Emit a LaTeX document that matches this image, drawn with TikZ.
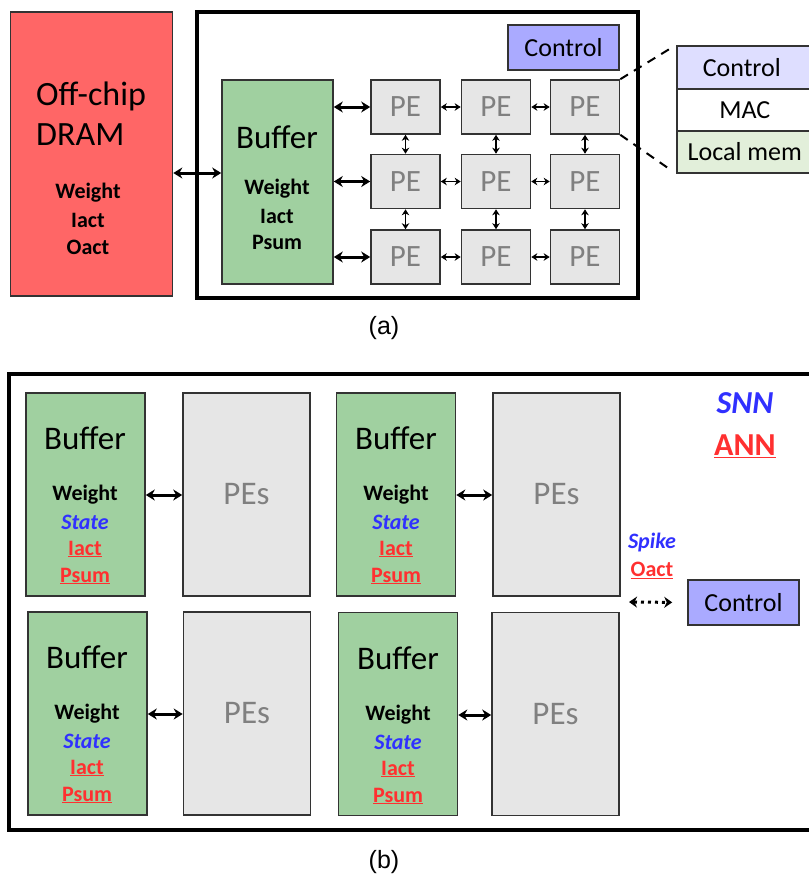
\documentclass[tikz,border=0pt]{standalone}
\usepackage{fontspec}
\setmainfont{Carlito}
\newfontfamily\capfont{Liberation Sans}
\usetikzlibrary{arrows.meta}
\definecolor{dramred}{HTML}{FF6666}
\definecolor{bufgreen}{HTML}{A0D0A0}
\definecolor{ctrlblue}{HTML}{AAAAFF}
\definecolor{pegray}{HTML}{E6E6E6}
\definecolor{dctrl}{HTML}{DEDEFF}
\definecolor{dlocal}{HTML}{E2EFDA}
\definecolor{snnblue}{HTML}{3030FF}
\definecolor{annred}{HTML}{FF3030}
\newcommand{\fs}[1]{\fontsize{#1}{#1}\selectfont}
\begin{document}
\begin{tikzpicture}[x=1pt,y=-1pt,
  box/.style={draw=black!80, line width=1.6pt, inner sep=0pt},
  pebox/.style={box, fill=pegray, minimum width=69pt, minimum height=54pt, text=black!50, font=\fs{31}},
  bigpe/.style={box, fill=pegray, minimum width=127pt, minimum height=203pt, text=black!50, font=\fs{33}},
  bufbox/.style={box, fill=bufgreen, minimum width=119pt, minimum height=203pt},
  ctrlbox/.style={box, fill=ctrlblue, minimum width=111pt, minimum height=45pt, font=\fs{26}},
  framebox/.style={draw=black, line width=3.5pt},
  bigarr/.style={line width=3pt, {Stealth[length=9pt,width=11pt]}-{Stealth[length=9pt,width=11pt]}},
  smallarr/.style={line width=1.5pt, {Stealth[length=6pt,width=7.5pt]}-{Stealth[length=6pt,width=7.5pt]}},
  dotarr/.style={line width=3pt, dash pattern=on 3pt off 4pt, {Stealth[length=8pt,width=11pt]}-{Stealth[length=8pt,width=11pt]}},
  dashln/.style={line width=2pt, dash pattern=on 9pt off 7pt},
  lbl/.style={font=\fs{22}\bfseries, inner sep=0pt},
  bigtext/.style={font=\fs{33}, inner sep=0pt},
  snn/.style={lbl, text=snnblue, font=\fs{22}\bfseries\itshape},
  ann/.style={lbl, text=annred},
  captext/.style={font=\capfont\fs{25}, inner sep=0pt}
]
\useasboundingbox (0,0) rectangle (809,879);

% ---------------- (a) ----------------
\node[box, fill=dramred, minimum width=162pt, minimum height=284pt] (dram) at (91.5,154) {};
\node[bigtext, anchor=west, font=\fs{34}] (offchip) at (36,96) {Off-chip};
\node[bigtext, anchor=west, font=\fs{34}] (dramt) at (36,135) {DRAM};
\node[lbl] (dw) at (88,193) {Weight};
\node[lbl] (di) at (88,220) {Iact};
\node[lbl] (do) at (88,247) {Oact};

\node[framebox, minimum width=441pt, minimum height=286pt, inner sep=0pt] (chip) at (417.5,155) {};

\node[box, fill=bufgreen, minimum width=111pt, minimum height=204pt] (buf) at (277.5,182) {};
\node[bigtext] (buft) at (277,137) {Buffer};
\node[lbl] (bw) at (277,189) {Weight};
\node[lbl] (bi) at (277,216) {Iact};
\node[lbl] (bp) at (277,242) {Psum};

\node[ctrlbox] (ctrl) at (563.5,47.5) {Control};

\node[pebox] (pe11) at (405.5,107) {PE};
\node[pebox] (pe12) at (496,107) {PE};
\node[pebox] (pe13) at (585,107) {PE};
\node[pebox] (pe21) at (405.5,181.5) {PE};
\node[pebox] (pe22) at (496,181.5) {PE};
\node[pebox] (pe23) at (585,181.5) {PE};
\node[pebox] (pe31) at (405.5,257) {PE};
\node[pebox] (pe32) at (496,257) {PE};
\node[pebox] (pe33) at (585,257) {PE};

\draw[bigarr] (dram.east |- 0,173) -- (buf.west |- 0,173);
\draw[bigarr] (buf.east |- pe11.west) -- (pe11.west);
\draw[bigarr] (buf.east |- pe21.west) -- (pe21.west);
\draw[bigarr] (buf.east |- pe31.west) -- (pe31.west);
\foreach \r in {1,2,3}{
  \draw[smallarr] (pe\r1.east) -- (pe\r2.west);
  \draw[smallarr] (pe\r2.east) -- (pe\r3.west);
}
\foreach \c in {1,2,3}{
  \draw[smallarr] (pe1\c.south) -- (pe2\c.north);
  \draw[smallarr] (pe2\c.south) -- (pe3\c.north);
}

\node[box, fill=dctrl, minimum width=136pt, minimum height=43pt, anchor=north west, font=\fs{26}] (dc) at (676,45) {\hspace*{-6pt}Control};
\node[box, fill=white, minimum width=136pt, minimum height=42pt, anchor=north west, font=\fs{26}] (dm) at (676,88) {MAC};
\node[box, fill=dlocal, minimum width=136pt, minimum height=42pt, anchor=north west, font=\fs{26}] (dl) at (676,130) {Local mem};
\draw[dashln, shorten >=5pt] (pe13.north east) -- (dc.north west);
\draw[dashln, shorten >=6pt] (pe13.south east) -- (dl.south west);

\node[captext] (capa) at (384,328) {(a)};

% ---------------- (b) ----------------
\draw[framebox] (809,374) -- (9,374) -- (9,830) -- (809,830);

\node[bufbox] (b1) at (85.5,494.5) {};
\node[bigpe] (p1) at (246.5,494.5) {PEs};
\node[bufbox] (b2) at (396,494.5) {};
\node[bigpe] (p2) at (556.5,494.5) {PEs};
\node[bufbox] (b3) at (87.5,713.5) {};
\node[bigpe] (p3) at (247,713.5) {PEs};
\node[bufbox] (b4) at (398,714) {};
\node[bigpe] (p4) at (555.5,714) {PEs};

\foreach \n/\x/\y in {1/85/438, 2/396/438, 3/87/657, 4/398/658}{
  \node[bigtext] (bt\n) at (\x,\y) {Buffer};
  \node[lbl] (bw\n) at (\x,\y+57) {Weight};
  \node[snn] (bs\n) at (\x,\y+84) {State};
  \node[ann] (bi\n) at (\x,\y+111) {\underline{Iact}};
  \node[ann] (bp\n) at (\x,\y+138) {\underline{Psum}};
}

\draw[bigarr] (b1.east |- bw1) -- (p1.west |- bw1);
\draw[bigarr] (b2.east |- bw2) -- (p2.west |- bw2);
\draw[bigarr] (b3.east |- bw3) -- (p3.west |- bw3);
\draw[bigarr] (b4.east |- bw4) -- (p4.west |- bw4);

\node[snn, font=\fs{32}\bfseries\itshape] (snnl) at (745,403) {SNN};
\node[ann, font=\fs{32}\bfseries] (annl) at (745,446) {\underline{ANN}};

\node[snn] (spike) at (652,543) {Spike};
\node[ann] (oact) at (652,570) {\underline{Oact}};

\node[ctrlbox] (ctrl2) at (743.5,602.5) {Control};
\coordinate (dotl) at (629,602);
\draw[dotarr, shorten >=15pt] (dotl) -- (ctrl2.west);

\node[captext] (capb) at (384,862) {(b)};
\end{tikzpicture}
\end{document}
